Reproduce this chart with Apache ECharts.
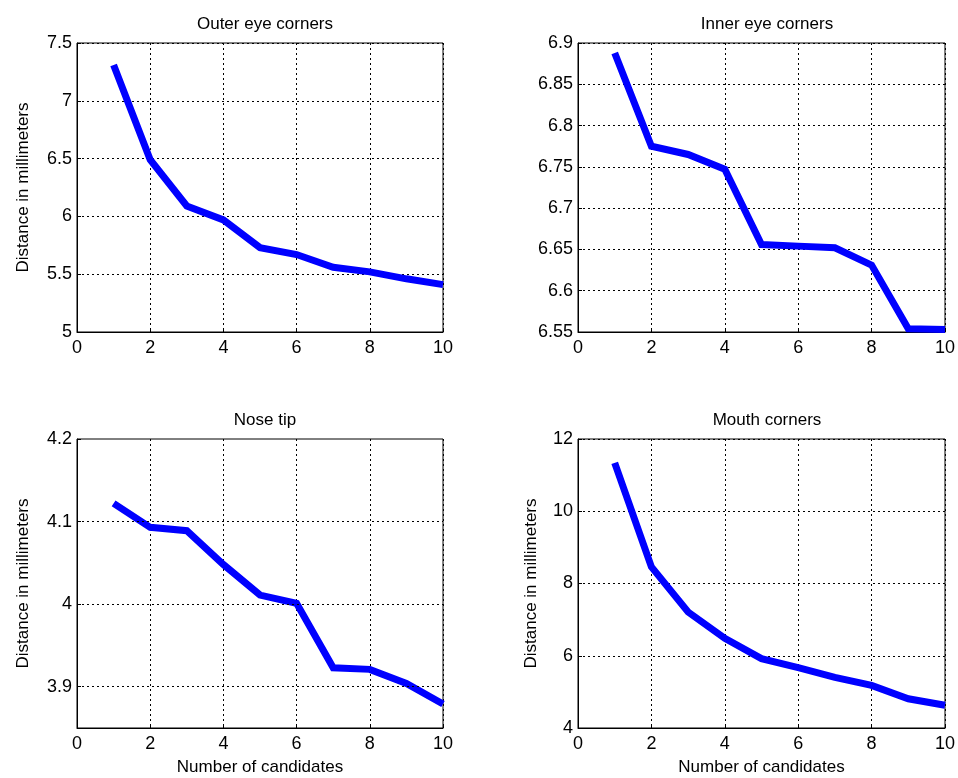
<!DOCTYPE html>
<html>
<head>
<meta charset="utf-8">
<title>Distance vs number of candidates</title>
<style>
  html, body { margin: 0; padding: 0; background: #fff; }
  #main { width: 958px; height: 778px; }
</style>
<script src="https://cdn.jsdelivr.net/npm/echarts@6/dist/echarts.min.js"></script>
</head>
<body>
<div id="main"></div>
<script>
// number of candidates (x)
var candidates = [1, 2, 3, 4, 5, 6, 7, 8, 9, 10];

// distance in millimeters
var outerEye = [7.31, 6.49, 6.09, 5.97, 5.73, 5.67, 5.56, 5.52, 5.46, 5.41];
var innerEye = [6.888, 6.775, 6.765, 6.747, 6.656, 6.654, 6.652, 6.631, 6.554, 6.553];
var noseTip  = [4.122, 4.093, 4.089, 4.048, 4.011, 4.001, 3.923, 3.921, 3.904, 3.879];
var mouth    = [11.34, 8.46, 7.21, 6.48, 5.92, 5.67, 5.40, 5.18, 4.81, 4.63];

var titles = ['Outer eye corners', 'Inner eye corners', 'Nose tip', 'Mouth corners'];
// nose tip axis starts at 3.85 but only labels tenths
var noseTicks = [3.9, 4, 4.1, 4.2];

var font = 'Liberation Sans, Arial, sans-serif';
var gridDash = [2, 3];

function pairs(ys) {
    return candidates.map(function (x, i) { return [x, ys[i]]; });
}

var grids = [
    {left: 77, top: 43, width: 366, height: 289},
    {left: 578, top: 43, width: 368, height: 289},
    {left: 77, top: 439, width: 366, height: 289},
    {left: 578, top: 439, width: 368, height: 289}
];
grids.forEach(function (g) {
    g.show = true;
    g.borderColor = '#000';
    g.borderWidth = 1;
    g.backgroundColor = '#fff';
});

var yRanges = [
    {min: 5, max: 7.5, interval: 0.5},
    {min: 6.55, max: 6.9, interval: 0.05},
    {min: 3.85, max: 4.2},
    {min: 4, max: 12, interval: 2}
];
var yNames = ['Distance in millimeters', '', 'Distance in millimeters', 'Distance in millimeters'];
var yNameGap = [45, 38, 45, 38];

var xAxes = [], yAxes = [], series = [], titleList = [];
for (var i = 0; i < 4; i++) {
    var g = grids[i];
    titleList.push({
        text: titles[i],
        left: g.left + g.width / 2,
        top: g.top - 32,
        textAlign: 'center',
        textStyle: {fontFamily: font, fontSize: 17, fontWeight: 'normal', color: '#000'}
    });
    xAxes.push({
        gridIndex: i,
        type: 'value',
        min: 0, max: 10, interval: 2,
        name: i >= 2 ? 'Number of candidates' : '',
        nameLocation: 'middle',
        nameGap: 31,
        nameTextStyle: {fontFamily: font, fontSize: 17, color: '#000'},
        axisLine: {show: true, lineStyle: {color: '#000', width: 1}},
        axisTick: {show: true, inside: true, length: 4, lineStyle: {color: '#000'}},
        axisLabel: {fontFamily: font, fontSize: 18, color: '#000', margin: 7},
        splitLine: {show: true, lineStyle: {color: '#000', width: 1, type: gridDash}}
    });
    var y = {
        gridIndex: i,
        type: 'value',
        min: yRanges[i].min,
        max: yRanges[i].max,
        name: yNames[i],
        nameLocation: 'middle',
        nameGap: yNameGap[i],
        nameTextStyle: {fontFamily: font, fontSize: 17, color: '#000'},
        axisLine: {show: true, lineStyle: {color: '#000', width: 1}},
        axisTick: {show: true, inside: true, length: 4, lineStyle: {color: '#000'}},
        axisLabel: {fontFamily: font, fontSize: 18, color: '#000', margin: 5},
        splitLine: {show: true, lineStyle: {color: '#000', width: 1, type: gridDash}}
    };
    if (yRanges[i].interval) {
        y.interval = yRanges[i].interval;
    } else {
        y.axisLabel.customValues = noseTicks;
        y.axisTick.customValues = noseTicks;
        y.splitLine.show = false;
    }
    yAxes.push(y);
}

var data = [outerEye, innerEye, noseTip, mouth];
for (var k = 0; k < 4; k++) {
    series.push({
        type: 'line',
        xAxisIndex: k, yAxisIndex: k,
        data: pairs(data[k]),
        showSymbol: false,
        symbol: 'none',
        z: 3,
        lineStyle: {color: '#0000ff', width: 7, join: 'miter'},
        clip: true
    });
}
// gridlines for the nose tip panel, drawn under the curve
series.push({
    type: 'line',
    xAxisIndex: 2, yAxisIndex: 2,
    data: [],
    z: 1,
    markLine: {
        silent: true,
        symbol: 'none',
        label: {show: false},
        lineStyle: {color: '#000', width: 1, type: gridDash},
        data: noseTicks.slice(0, 3).map(function (v) { return {yAxis: v}; })
    }
});

var myChart = echarts.init(document.getElementById('main'));
myChart.setOption({
    animation: false,
    backgroundColor: '#fff',
    title: titleList,
    grid: grids,
    xAxis: xAxes,
    yAxis: yAxes,
    series: series
});
</script>
</body>
</html>
